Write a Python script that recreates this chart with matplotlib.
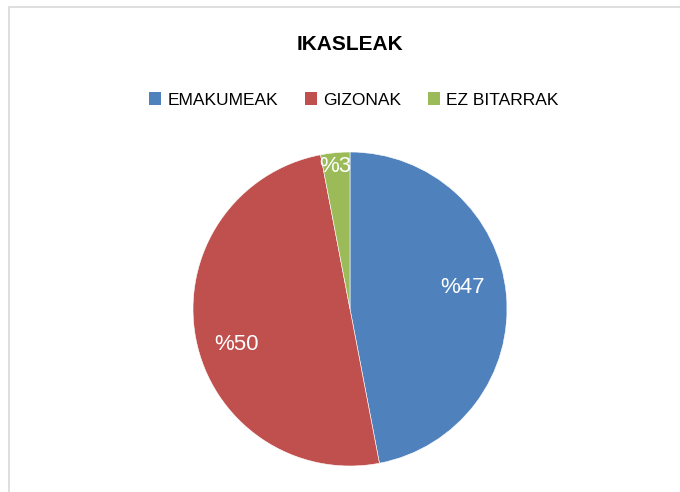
import matplotlib
matplotlib.use("Agg")
import matplotlib.pyplot as plt
from matplotlib.patches import Patch, Rectangle
import numpy as np

categories = ["EMAKUMEAK", "GIZONAK", "EZ BITARRAK"]
values = [47, 50, 3]
value_labels = ["%47", "%50", "%3"]
title = "IKASLEAK"

colors = ["#4F81BD", "#C0504D", "#9BBB59"]
FONT = ["Liberation Sans", "DejaVu Sans"]

fig = plt.figure(figsize=(6.8, 4.92), dpi=100)
fig.patch.set_facecolor("white")

# chart area border
fig.add_artist(Rectangle((8.5 / 680, -0.1), 1.2, 1 - 6.5 / 492 + 0.1,
                         transform=fig.transFigure, fill=False,
                         edgecolor="#d9d9d9", linewidth=1.2))

ax = fig.add_axes([193 / 680, 26 / 492, 314 / 680, 314 / 492])
wedges, texts, autotexts = ax.pie(values, colors=colors, startangle=90,
                                  counterclock=False, radius=1.0,
                                  autopct=lambda p: "", pctdistance=0.73,
                                  wedgeprops=dict(edgecolor="white", linewidth=0.4))
ax.set_xlim(-1, 1)
ax.set_ylim(-1, 1)
ax.set_aspect("equal")
ax.axis("off")

# label placement (radius fraction, angle in degrees) per slice
label_pos = [(0.73, 11.0), (0.76, -162.5), (0.91, 96.0)]
for t, lab, (r, ang) in zip(autotexts, value_labels, label_pos):
    a = np.deg2rad(ang)
    t.set_position((r * np.cos(a), r * np.sin(a)))
    t.set_text(lab)
    t.set_color("white")
    t.set_fontsize(16)
    t.set_family(FONT)
    t.set_ha("center")
    t.set_va("center")

fig.text(350 / 680, 1 - 44.5 / 492, title, ha="center", va="center",
         fontsize=15, fontweight="bold", family=FONT, color="black")

handles = [Patch(facecolor=c, edgecolor="none") for c in colors]
leg = fig.legend(handles, categories, loc="center", bbox_to_anchor=(354 / 680, 1 - 100 / 492),
                 ncol=3, frameon=False, handlelength=0.7, handleheight=0.7,
                 handletextpad=0.35, columnspacing=1.55,
                 prop=dict(family=FONT, size=12.5))

fig.savefig("out.png", dpi=100, facecolor="white")
